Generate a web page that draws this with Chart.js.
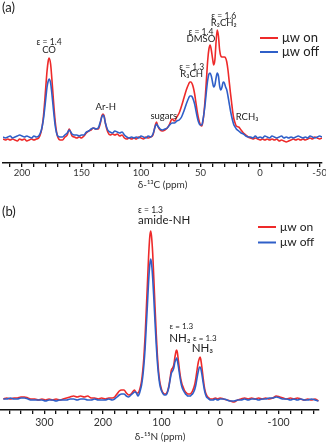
<!DOCTYPE html>
<html>
<head>
<meta charset="utf-8">
<script src="https://cdn.jsdelivr.net/npm/chart.js@4.4.1/dist/chart.umd.min.js"></script>
<style>
  html, body { margin: 0; padding: 0; background: #fff; }
  #wrap { position: relative; width: 326px; height: 444px; overflow: hidden; }
  canvas { position: absolute; left: 0; }
  #chartA { top: 0; }
  #chartB { top: 196px; }
</style>
</head>
<body>
<div id="wrap">
  <canvas id="chartA" width="326" height="195" style="width:326px;height:195px"></canvas>
  <canvas id="chartB" width="326" height="248" style="width:326px;height:248px"></canvas>
</div>
<script>
// (a) 13C spectrum: chemical shift (ppm) and intensity, μw on / μw off
const C13_PPM = [
  216, 214, 212, 210, 208, 206, 204, 202, 200, 198, 196, 194, 192, 190, 188, 186,
  184, 183, 182, 181, 180, 179, 178, 177.3, 176, 175, 174, 173, 172, 171, 170, 168, 166,
  164, 162, 160.4, 158, 156, 154, 152, 150, 148, 146, 144, 142, 140, 138, 136, 134, 133, 132, 131, 130, 128, 126, 124, 122, 120, 118, 116, 114, 112,
  110, 108, 106, 104, 102, 100, 98, 96, 94, 92, 90,
  88, 87, 86, 84, 82, 80, 78, 76, 74, 72,
  70, 68, 66, 64, 62, 60, 59, 58, 57, 56, 55, 54, 53, 52, 51, 50,
  49, 48, 47, 46, 45, 44, 43, 42, 41, 40, 39, 38, 37, 36, 35, 34, 33, 32, 31, 30, 29, 28, 27, 26, 25, 24, 23, 22, 21, 20,
  18, 16, 14, 12, 10,
  8, 6, 4, 2, 0, -2, -4, -6, -8, -10, -12, -14, -16, -18, -20, -22, -24, -26, -28, -30, -32, -34, -36, -38, -40, -42, -44, -46, -48, -50, -52
];
const C13_ON = [
  -1, -2, -1, -2, -1, -2, -3, -1, -2, -1, -3, -2, -1, -2, -1, 0,
  6, 12, 22, 36, 52, 67, 77, 80, 74, 60, 44, 28, 15, 6, 1, -2, -2,
  1, 3, 9, 2, 1, 0, 1, 0, 2, 5, 7, 8, 10, 9, 9, 16, 22, 24, 22, 15, 6, 3, 4, 3, 4, 2, 3, 0, -1,
  0, -1, 0, -1, 1, 0, -1, 1, 0, 1, 3,
  13, 16, 12, 8, 7, 8, 10, 14, 19, 17,
  21, 25, 32, 40, 48, 54, 56, 56, 54, 50, 44, 36, 28, 21, 16, 13,
  12, 17, 27, 42, 60, 78, 89, 93, 88, 80, 73, 78, 96, 108, 102, 88, 82, 81, 81, 81, 80, 76, 68, 57, 46, 36, 26, 19, 15, 12,
  11, 8, 5, 3, 1,
  0, -1, 0, -1, -2, -1, -2, -1, -2, -1, -2, -1, -3, -2, -3, -4, -3, -2, -1, -2, -1, -2, -1, -2, -1, 0, -1, 1, 0, -1, 0
];
const C13_OFF = [
  1, 0, 1, 2, 0, 1, 2, 3, 2, 1, 2, 1, 0, 2, 1, 2,
  7, 12, 19, 29, 40, 51, 57, 59, 55, 45, 33, 21, 11, 5, 2, 1, 1,
  3, 5, 8, 4, 3, 3, 2, 3, 3, 6, 7, 9, 10, 9, 10, 17, 21, 23, 21, 15, 8, 6, 5, 7, 6, 5, 6, 3, 1,
  0, 1, 0, 1, 0, 2, 1, 0, 2, 1, 4,
  12, 14, 12, 9, 8, 9, 10, 13, 15, 15,
  17, 18, 21, 27, 34, 40, 42, 42, 41, 38, 34, 28, 22, 17, 14, 13,
  13, 18, 26, 36, 48, 58, 64, 65, 62, 56, 51, 53, 60, 65, 62, 52, 48, 51, 56, 55, 51, 48, 42, 35, 28, 22, 17, 13, 11, 9,
  7, 5, 4, 2, 1,
  1, 0, 2, 0, 1, 0, 2, 1, 0, 2, 1, 0, 1, 2, 0, 1, 0, 1, 0, 1, 2, 1, 0, 1, 0, 2, 1, 0, 1, 2, 1
];
const C13_TICKS = [210, 200, 190, 180, 170, 160, 150, 140, 130, 120, 110, 100, 90, 80, 70, 60, 50, 40, 30, 20, 10, 0, -10, -20, -30, -40, -50];

// (b) 15N spectrum
const N15_PPM = [
  370, 364, 358, 352, 346, 340, 334, 328, 322, 316, 310, 304, 298, 292, 286, 280, 274, 268, 262, 256, 250, 244, 238, 232, 226, 220, 214, 208, 202, 196, 190,
  184, 180, 176, 172, 168, 164, 160, 156, 152, 148, 146, 144, 142,
  140, 138, 136, 134, 132, 130, 128, 126, 124, 122, 120, 118.5, 117, 115, 113, 111, 109, 107, 105, 103, 101, 99, 97, 95, 93, 91, 89,
  87, 85, 83, 81, 79, 77, 75, 74, 73, 71, 69, 67, 65, 63, 61, 59, 57, 55, 53, 51, 49, 47, 45,
  43, 41, 39, 37, 35, 34, 33, 31, 29, 27, 25, 23, 21, 19, 16,
  12, 8, 4, 0, -6, -12, -18, -24, -30, -36, -42, -48, -54, -60, -66, -72, -78, -84, -90, -96, -102, -108, -114, -120, -126, -132, -138, -144, -150, -156, -162, -168
];
const N15_ON = [
  0, 1, 0, 1, 1, 2, 2, 1, 0, 0, -1, 0, -1, 0, -1, 0, -1, 0, 1, 2, 3, 2, 3, 2, 3, 1, 1, 0, 1, 0, 1,
  1, 2, 5, 8, 9, 9, 6, 4, 5, 8, 9, 7, 6,
  6, 8, 12, 18, 28, 42, 62, 88, 115, 142, 162, 168, 163, 146, 120, 92, 66, 44, 28, 18, 12, 8, 6, 5, 5, 6, 9,
  14, 22, 29, 31, 34, 42, 48, 49, 47, 38, 28, 20, 15, 12, 9, 7, 6, 5, 5, 5, 6, 8, 11,
  15, 22, 30, 37, 41, 42, 40, 32, 22, 13, 7, 4, 2, 1, 0,
  0, 1, 0, 1, 0, -1, -2, -3, -1, 0, 1, 0, 1, 0, 1, 0, 1, 0, 1, 3, 2, 1, 0, 1, 0, 1, 0, -1, 0, -1, 0, -2
];
const N15_OFF = [
  0, 0, 1, 0, 0, 1, 1, 0, -1, -1, -1, -1, -2, -1, -1, -2, -1, -1, -1, 0, 0, -1, 0, 0, -1, -1, 0, -1, -1, -1, 0,
  -1, 0, 2, 4, 5, 5, 3, 2, 4, 6, 7, 7, 5,
  3, 5, 9, 14, 22, 34, 50, 72, 94, 117, 134, 140, 136, 121, 100, 77, 55, 37, 24, 15, 10, 7, 5, 4, 4, 5, 8,
  13, 20, 26, 28, 31, 37, 40, 41, 39, 32, 24, 17, 12, 9, 7, 5, 4, 3, 3, 3, 4, 5, 7,
  10, 15, 22, 28, 32, 32, 31, 25, 17, 10, 5, 2, 1, 0, -1,
  -1, 0, -1, 0, 0, -1, -2, -2, -1, -1, 0, -1, 0, 0, -1, 0, 0, 1, 1, 2, 1, 0, 0, -1, 0, -1, 0, -1, -1, 0, -1, -2
];
const N15_TICKS = [360, 340, 320, 300, 280, 260, 240, 220, 200, 180, 160, 140, 120, 100, 80, 60, 40, 20, 0, -20, -40, -60, -80, -100, -120, -140, -160];

const SERIES_NAMES = ['μw on', 'μw off'];

// peak annotations: text, shift, height (in intensity units)
const C13_LABELS = [
  { text: 'ε = 1.4', ppm: 177.3, level: 96, size: 8.5 },
  { text: 'CO', ppm: 177.3, level: 88, size: 9.5 },
  { text: 'Ar-H', ppm: 129.6, level: 31, size: 9.5 },
  { text: 'sugars', ppm: 81, level: 22, size: 9.5 },
  { text: 'ε = 1.3', ppm: 57.5, level: 71, size: 8.5 },
  { text: 'R₃CH', ppm: 57.5, level: 64, size: 9.5 },
  { text: 'ε = 1.4', ppm: 49.7, level: 106, size: 8.5 },
  { text: 'DMSO', ppm: 49.7, level: 99, size: 9.5 },
  { text: 'ε = 1.6', ppm: 30.5, level: 122, size: 8.5 },
  { text: 'R₂CH₂', ppm: 30.5, level: 115, size: 9.5 },
  { text: 'RCH₃', ppm: 11, level: 21, size: 9.5 }
];
const N15_LABELS = [
  { text: 'ε = 1.3', ppm: 140, level: 189, size: 8.5, align: 'left' },
  { text: 'amide-NH', ppm: 140, level: 179, size: 11.5, align: 'left' },
  { text: 'ε = 1.3', ppm: 66, level: 73, size: 8 },
  { text: 'NH₂', ppm: 68.5, level: 61, size: 11.5 },
  { text: 'ε = 1.3', ppm: 26, level: 61, size: 8 },
  { text: 'NH₃', ppm: 30, level: 51, size: 11.5 }
];

const RED = '#ee2a2a';
const BLUE = '#2f5fc8';
const FONT = 'Lato, "Liberation Sans", sans-serif';

Chart.defaults.font.family = FONT;

/**
 * Draws peak labels, panel letter and the little legend.
 */
const annotate = {
  id: 'annotate',
  afterDraw(chart, args, opts) {
    const { ctx, scales: { x, y } } = chart;
    ctx.save();
    ctx.fillStyle = '#222';
    ctx.textBaseline = 'middle';
    opts.labels.forEach(l => {
      ctx.font = l.size + 'px ' + FONT;
      ctx.textAlign = l.align || 'center';
      ctx.fillText(l.text, x.getPixelForValue(l.ppm), y.getPixelForValue(l.level));
    });

    ctx.font = '13px ' + FONT;
    ctx.textAlign = 'left';
    ctx.fillText(opts.panel, 2, opts.panelY);

    const lg = opts.legend;
    [RED, BLUE].forEach((c, i) => {
      const yy = lg.y + i * lg.gap;
      ctx.strokeStyle = c;
      ctx.lineWidth = 2;
      ctx.beginPath();
      ctx.moveTo(lg.x, yy);
      ctx.lineTo(lg.x + 18, yy);
      ctx.stroke();
      ctx.font = lg.size + 'px ' + FONT;
      ctx.fillStyle = '#222';
      ctx.fillText(SERIES_NAMES[i], lg.x + 22, yy);
    });
    ctx.restore();
  }
};

function makeDatasets(ppm, on, off) {
  return [
    { label: SERIES_NAMES[1], data: ppm.map((p, i) => ({ x: p, y: off[i] })), borderColor: BLUE },
    { label: SERIES_NAMES[0], data: ppm.map((p, i) => ({ x: p, y: on[i] })), borderColor: RED }
  ].map(d => Object.assign(d, { borderWidth: 1.6, pointRadius: 0, cubicInterpolationMode: 'monotone', fill: false }));
}

function xAxis(cfg) {
  return {
    type: 'linear',
    reverse: true,
    min: cfg.min,
    max: cfg.max,
    afterBuildTicks: s => { s.ticks = cfg.ticks.map(v => ({ value: v })); },
    afterFit: s => { s.height = cfg.height; s.paddingLeft = 0; s.paddingRight = 0; },
    ticks: {
      autoSkip: false, maxRotation: 0, padding: cfg.tickPad, color: '#333',
      font: { size: cfg.tickSize },
      callback: v => (v % cfg.every === 0 ? String(v) : '')
    },
    grid: { drawOnChartArea: false, drawTicks: true, tickLength: 4, color: '#111', lineWidth: 1.3 },
    border: { display: true, color: '#111', width: 1.5 },
    title: { display: true, text: cfg.title, color: '#333', font: { size: 10 }, padding: { top: 0, bottom: cfg.titlePad } }
  };
}

function renderPanel(id, datasets, x, y, padding, pluginOpts) {
  return new Chart(document.getElementById(id), {
    type: 'line',
    data: { datasets },
    options: {
      responsive: false,
      animation: false,
      events: [],
      layout: { padding },
      scales: { x: xAxis(x), y: { display: false, min: y[0], max: y[1] } },
      plugins: { legend: { display: false }, tooltip: { enabled: false }, annotate: pluginOpts }
    },
    plugins: [annotate]
  });
}

renderPanel('chartA', makeDatasets(C13_PPM, C13_ON, C13_OFF),
  { min: -52, max: 216, ticks: C13_TICKS, every: 50, height: 32, tickPad: 0, tickSize: 9.5, title: 'δ-¹³C (ppm)', titlePad: 4 },
  [-25, 123], { top: 15, left: 3, right: 4, bottom: 0 },
  { labels: C13_LABELS, panel: '(a)', panelY: 8, legend: { x: 260, y: 38, gap: 14, size: 13 } });

renderPanel('chartB', makeDatasets(N15_PPM, N15_ON, N15_OFF),
  { min: -169, max: 374, ticks: N15_TICKS, every: 100, height: 34, tickPad: 2, tickSize: 10.5, title: 'δ-¹⁵N (ppm)', titlePad: 1 },
  [-11, 175], { top: 28, left: 1, right: 7, bottom: 0 },
  { labels: N15_LABELS, panel: '(b)', panelY: 16, legend: { x: 258, y: 31, gap: 15.5, size: 12 } });
</script>
</body>
</html>
